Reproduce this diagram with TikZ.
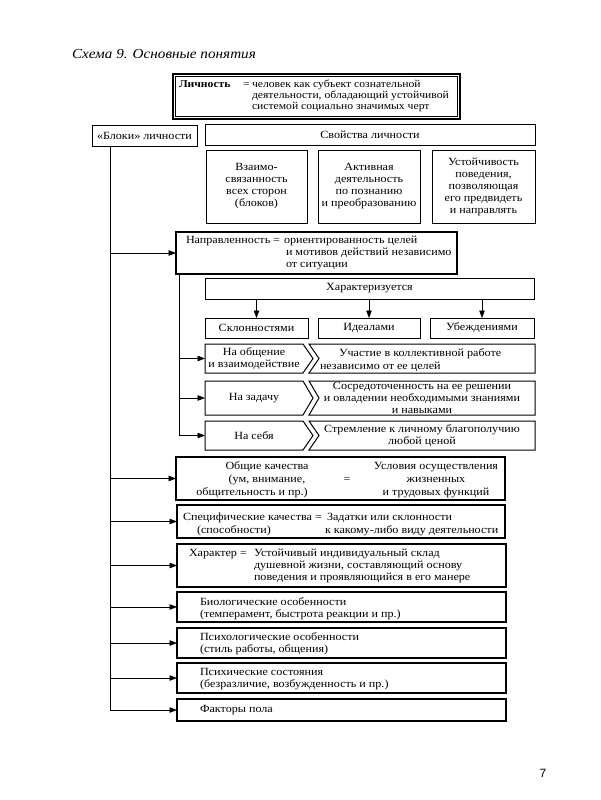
\documentclass[tikz,border=0pt]{standalone}
\usepackage{fontspec}
\setmainfont[FakeStretch=1.1]{Liberation Serif}
\newfontfamily\numfont{Liberation Sans}
\usetikzlibrary{arrows.meta}
\begin{document}
\begin{tikzpicture}[x=1pt,y=-1pt,
  every node/.style={inner sep=0pt,outer sep=0pt},
  txt/.style={font=\fontsize{11}{12}\selectfont},
  rect/.style 2 args={minimum width=#1,minimum height=#2},
  thinbox/.style={draw,line width=0.6pt,txt,align=center},
  thickbox/.style={draw,line width=1.1pt,txt,align=center},
  rowline/.style={line width=1pt},
  plain/.style={line width=0.7pt},
  conn/.style={line width=0.7pt,-{Triangle[length=7.5pt,width=5.5pt]}},
  lt/.style={txt,anchor=base west},
  ct/.style={txt,anchor=base},
  lichtxt/.style={anchor=base west,font=\fontsize{10.6}{12}\selectfont},
]
\useasboundingbox (0,0) rectangle (600,800);
\fill[white] (0,0) rectangle (600,800);

% title
\node[anchor=base west,font=\fontsize{13.8}{15}\selectfont\itshape] (title) at (72,59) {Схема 9. Основные понятия};

% Личность
\node[thickbox,rect={287}{45}] (lich) at (316.5,96.5) {};
\draw[line width=0.5pt] ([shift={(2.5,2.5)}]lich.north west) rectangle ([shift={(-2.5,-2.5)}]lich.south east);
\node[lichtxt] (lichA) at (179,87) {\bfseries Личность};
\node[lichtxt] (lichEq) at (243,87) {=};
\node[lichtxt] (lichB) at (252,87) {человек как субъект сознательной};
\node[lichtxt] (lichC) at (252,98) {деятельности, обладающий устойчивой};
\node[lichtxt] (lichD) at (252,109) {системой социально значимых черт};

% blocks and properties
\node[thinbox,rect={105}{21}] (bloki) at (144.5,135.5) {«Блоки» личности};
\node[thinbox,rect={330}{21}] (svoi) at (370,134.5) {Свойства личности};
\node[thinbox,rect={101}{73}] (s1) at (256.5,186.5) {Взаимо-\\связанность\\всех сторон\\(блоков)};
\node[thinbox,rect={102}{73}] (s2) at (369,186.5) {Активная\\деятельность\\по познанию\\и преобразованию};
\node[thinbox,rect={103}{73}] (s3) at (483.5,186.5) {Устойчивость\\поведения,\\позволяющая\\его предвидеть\\и направлять};

% Направленность
\node[thickbox,rect={281}{42}] (napr) at (316.5,253) {};
\node[lt] (naprA) at (186,243) {Направленность};
\node[lt] (naprEq) at (273,243) {=};
\node[lt] (naprB) at (284,243) {ориентированность целей};
\node[lt] (naprC) at (286,255) {и мотивов действий независимо};
\node[lt] (naprD) at (286,267) {от ситуации};

\node[thinbox,rect={329}{21}] (har) at (369.5,288.5) {Характеризуется};
\node[thinbox,rect={103}{20}] (sk) at (256.5,328) {Склонностями};
\node[thinbox,rect={102}{20}] (id) at (369,328) {Идеалами};
\node[thinbox,rect={104}{20}] (ub) at (482,328) {Убеждениями};
\draw[conn] (sk.north |- har.south) -- (sk.north);
\draw[conn] (id.north |- har.south) -- (id.north);
\draw[conn] (ub.north |- har.south) -- (ub.north);

% rows
\node[txt,align=center,rect={98}{29}] (r1l) at (254,358.5) {На общение\\и взаимодействие};
\node[txt,align=center,rect={98}{34}] (r2l) at (254,398) {На задачу};
\node[txt,align=center,rect={98}{29}] (r3l) at (254,435.5) {На себя};
\node[txt,align=center,rect={226}{29}] (r1r) at (422,358.5) {};
\node[txt,align=center,rect={226}{34}] (r2r) at (422,398) {Сосредоточенность на ее решении\\и овладении необходимыми знаниями\\и навыками};
\node[txt,align=center,rect={226}{29}] (r3r) at (422,435.5) {Стремление к личному благополучию\\любой ценой};
\node[lt] (r1a) at (339,356) {Участие в коллективной работе};
\node[lt] (r1b) at (320,369) {независимо от ее целей};
\foreach \n in {r1l,r2l,r3l}{
  \draw[rowline] (\n.north west) -- (\n.north east) -- ([xshift=10]\n.east) -- (\n.south east) -- (\n.south west) -- cycle;
}
\foreach \n in {r1r,r2r,r3r}{
  \draw[rowline] (\n.north west) -- (\n.north east) -- (\n.south east) -- (\n.south west) -- ([xshift=10]\n.west) -- cycle;
}
\coordinate (ib) at ([xshift=3]napr.south west);
\draw[conn] (ib) -- (ib |- r3l.west) -- (r3l.west);
\draw[conn] (ib |- r1l.west) -- (r1l.west);
\draw[conn] (ib |- r2l.west) -- (r2l.west);

% lower boxes
\node[thickbox,rect={329}{43}] (ob) at (340.5,478.5) {};
\node[ct] (obA) at (267,469) {Общие качества};
\node[ct] (obB) at (267,482) {(ум, внимание,};
\node[ct] (obC) at (252,495) {общительность и пр.)};
\node[ct] (obEq) at (347,482) {=};
\node[ct] (obD) at (436,469) {Условия осуществления};
\node[ct] (obE) at (436,482) {жизненных};
\node[ct] (obF) at (436,495) {и трудовых функций};

\node[thickbox,rect={328}{33}] (sp) at (341,521.5) {};
\node[lt] (spA) at (183,520) {Специфические качества};
\node[lt] (spEq) at (315,520) {=};
\node[lt] (spB) at (327,520) {Задатки или склонности};
\node[lt] (spC) at (197,533) {(способности)};
\node[lt] (spD) at (325,533) {к какому-либо виду деятельности};

\node[thickbox,rect={329}{43}] (ha) at (341.5,565.5) {};
\node[lt] (haA) at (189,556) {Характер};
\node[lt] (haEq) at (240,556) {=};
\node[lt] (haB) at (254,556) {Устойчивый индивидуальный склад};
\node[lt] (haC) at (254,568) {душевной жизни, составляющий основу};
\node[lt] (haD) at (254,580) {поведения и проявляющийся в его манере};

\node[thickbox,rect={329}{30}] (bio) at (341.5,607) {};
\node[lt] (bioA) at (200,605) {Биологические особенности};
\node[lt] (bioB) at (200,617) {(темперамент, быстрота реакции и пр.)};

\node[thickbox,rect={329}{30}] (psl) at (341.5,643) {};
\node[lt] (pslA) at (200,640) {Психологические особенности};
\node[lt] (pslB) at (200,652) {(стиль работы, общения)};

\node[thickbox,rect={329}{30}] (psh) at (341.5,678) {};
\node[lt] (pshA) at (200,675) {Психические состояния};
\node[lt] (pshB) at (200,687) {(безразличие, возбужденность и пр.)};

\node[thickbox,rect={329}{22}] (fak) at (341.5,710) {};
\node[lt] (fakA) at (200,712) {Факторы пола};

% main trunk
\coordinate (mb) at ([xshift=18]bloki.south west);
\draw[conn] (mb) -- (mb |- fak.west) -- (fak.west);
\foreach \n in {napr,ob,sp,ha,bio,psl,psh}{
  \draw[conn] (mb |- \n.west) -- (\n.west);
}

\node[font=\numfont\fontsize{12}{14}\selectfont] (pg) at (543,773) {7};
\end{tikzpicture}
\end{document}
